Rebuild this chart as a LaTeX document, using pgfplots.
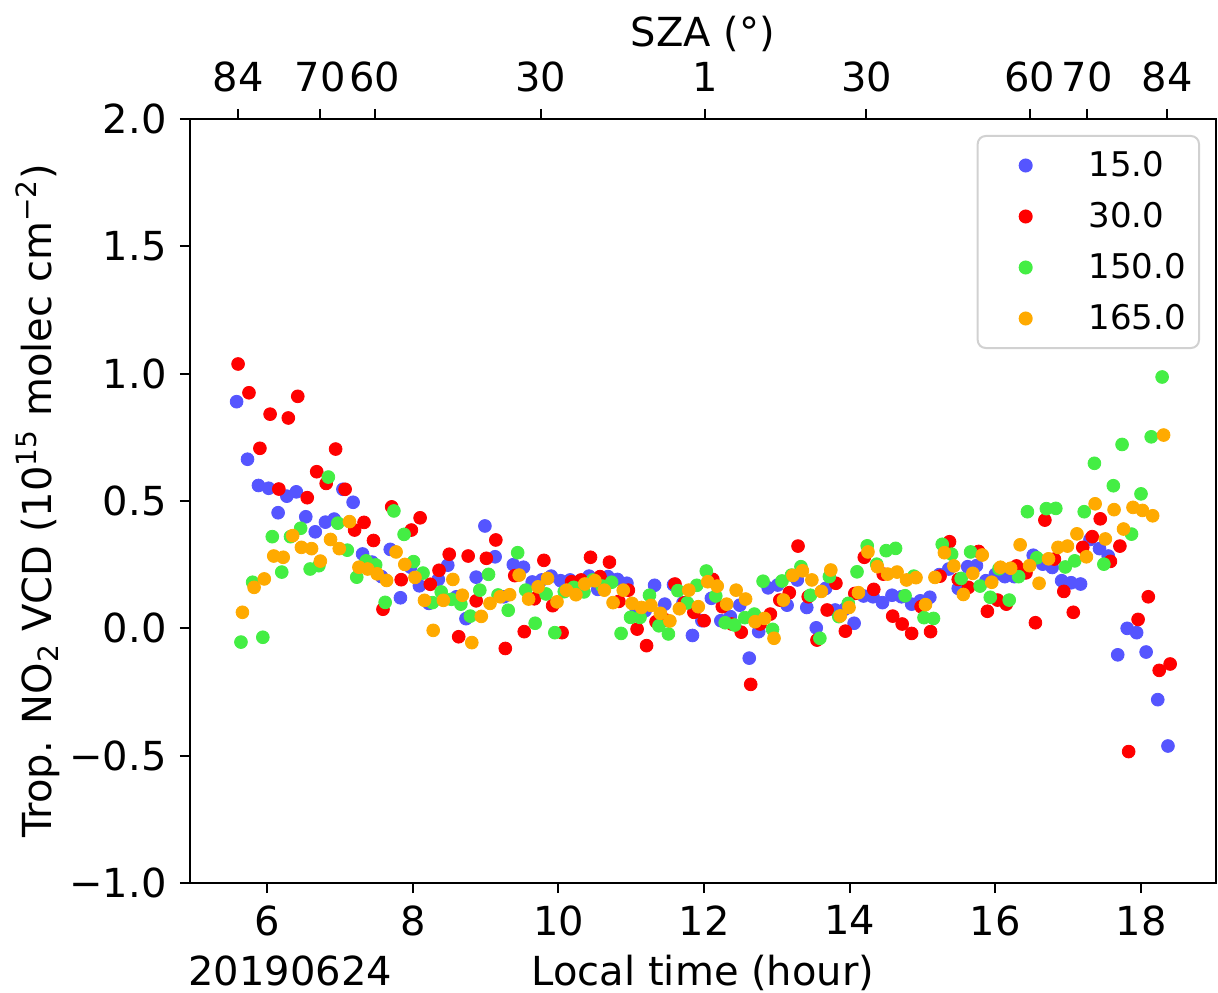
\documentclass[border=0pt]{standalone}
\usepackage{fontspec}
\setmainfont{DejaVu Sans}
\usepackage{pgfplots}
\pgfplotsset{compat=1.18}
\definecolor{cblue}{RGB}{85,85,255}
\definecolor{cred}{RGB}{255,0,0}
\definecolor{cgreen}{RGB}{68,238,68}
\definecolor{corange}{RGB}{255,170,0}
\newcommand{\bigf}{\fontsize{20}{24}\selectfont}
\newcommand{\legf}{\fontsize{17}{20}\selectfont}
\begin{document}
\begin{tikzpicture}
\useasboundingbox (-95pt,-54.5pt) rectangle (514pt,441.5pt);
\begin{axis}[
  name=main,
  at={(0,0)}, anchor=south west,
  scale only axis, width=513pt, height=382pt,
  xmin=4.94, xmax=19.03, ymin=-1, ymax=2,
  axis line style={line width=1pt},
  every tick/.style={line width=1pt, black},
  major tick length=5pt,
  tick align=outside,
  xtick={6,8,10,12,14,16,18},
  xticklabels={6,8,10,12,14,16,18},
  ytick={-1,-0.5,0,0.5,1,1.5,2},
  yticklabels={−1.0,−0.5,0.0,0.5,1.0,1.5,2.0},
  xtick pos=bottom, ytick pos=left,
  tick label style={font=\bigf},
  xticklabel style={anchor=north, inner sep=0pt},
  xticklabel shift=6pt,
  yticklabel style={anchor=east, inner sep=0pt},
  yticklabel shift=6.5pt,
  xlabel={Local time (hour)},
  xlabel style={font=\bigf, at={(axis description cs:0.5,0)}, anchor=base, yshift=-51pt, inner sep=0pt},
  ylabel={Trop. NO\textsubscript{2} VCD (10\textsuperscript{15} molec cm\textsuperscript{−2})},
  ylabel style={font=\bigf, at={([xshift=-76pt]axis description cs:0,0.5)}, anchor=center, inner sep=0pt},
  legend style={at={([xshift=-8pt,yshift=-8pt]rel axis cs:1,1)}, anchor=north east,
    draw=black!18, line width=1pt, rounded corners=4pt, fill=white,
    font=\legf, inner xsep=6.5pt, inner ysep=2pt, column sep=14pt,
    nodes={inner sep=0pt}},
  legend cell align=left,
  legend image code/.code={\path[draw=none,fill=none] (0pt,-12.75pt) rectangle (35pt,12.75pt); \draw[#1, mark size=3pt] plot coordinates {(17.5pt,0pt)};},
]
\addplot[only marks, mark=*, mark size=3.2pt, color=cblue] coordinates {
(5.58,0.890) (5.73,0.664) (5.88,0.561) (6.02,0.550) (6.15,0.454) (6.27,0.519) (6.40,0.536) (6.53,0.438)
(6.66,0.379) (6.80,0.417) (6.92,0.429) (7.04,0.546) (7.18,0.495) (7.31,0.292) (7.44,0.26) (7.57,0.203)
(7.69,0.310) (7.83,0.120) (7.97,0.240) (8.09,0.167) (8.22,0.098) (8.35,0.192) (8.48,0.248) (8.60,0.124)
(8.73,0.038) (8.87,0.201) (8.99,0.402) (9.13,0.281) (9.25,0.124) (9.38,0.250) (9.52,0.240) (9.64,0.182)
(9.77,0.19) (9.90,0.205) (10.03,0.187) (10.16,0.190) (10.29,0.17) (10.42,0.205) (10.54,0.153) (10.68,0.203)
(10.81,0.192) (10.94,0.177) (11.07,0.072) (11.19,0.069) (11.32,0.169) (11.46,0.095) (11.58,0.171) (11.71,0.10)
(11.84,-0.028) (11.97,0.030) (12.10,0.118) (12.23,0.030) (12.36,0.046) (12.49,0.091) (12.62,-0.117) (12.75,-0.013)
(12.88,0.159) (13.01,0.170) (13.14,0.091) (13.28,0.190) (13.41,0.082) (13.54,0.002) (13.67,0.157) (13.80,0.072)
(13.93,0.075) (14.06,0.020) (14.19,0.127) (14.32,0.124) (14.45,0.101) (14.58,0.130) (14.71,0.124) (14.85,0.095)
(14.97,0.108) (15.10,0.122) (15.23,0.211) (15.36,0.233) (15.49,0.157) (15.62,0.242) (15.74,0.246) (15.87,0.187)
(16.00,0.212) (16.13,0.203) (16.26,0.203) (16.39,0.218) (16.52,0.287) (16.65,0.252) (16.78,0.239) (16.91,0.187)
(17.04,0.179) (17.17,0.174) (17.30,0.349) (17.43,0.313) (17.55,0.284) (17.68,-0.104) (17.81,0.000) (17.94,-0.017)
(18.07,-0.093) (18.23,-0.280) (18.37,-0.462)
};
\addlegendentry{15.0}
\addplot[only marks, mark=*, mark size=3.2pt, color=cred] coordinates {
(5.60,1.038) (5.75,0.925) (5.90,0.707) (6.04,0.841) (6.16,0.547) (6.29,0.826) (6.42,0.911) (6.55,0.513)
(6.68,0.615) (6.81,0.569) (6.94,0.704) (7.07,0.546) (7.20,0.386) (7.33,0.416) (7.46,0.345) (7.59,0.075)
(7.71,0.477) (7.84,0.191) (7.98,0.386) (8.10,0.434) (8.24,0.173) (8.36,0.228) (8.50,0.291) (8.63,-0.033)
(8.76,0.284) (8.87,0.108) (9.01,0.275) (9.14,0.347) (9.27,-0.079) (9.40,0.207) (9.53,-0.013) (9.67,0.116)
(9.80,0.267) (9.92,0.089) (10.05,-0.017) (10.18,0.183) (10.31,0.19) (10.44,0.279) (10.57,0.203) (10.70,0.260)
(10.83,0.106) (10.96,0.150) (11.08,-0.003) (11.21,-0.068) (11.34,0.026) (11.47,0.033) (11.60,0.174) (11.73,0.10)
(11.86,0.063) (12.00,0.030) (12.12,0.192) (12.25,0.085) (12.38,0.017) (12.51,-0.015) (12.64,-0.220) (12.77,0.017)
(12.91,0.056) (13.04,0.111) (13.17,0.140) (13.29,0.323) (13.43,0.124) (13.55,-0.046) (13.69,0.072) (13.81,0.177)
(13.94,-0.011) (14.07,0.137) (14.20,0.279) (14.33,0.153) (14.46,0.213) (14.59,0.048) (14.72,0.017) (14.85,-0.020)
(14.98,0.085) (15.11,-0.013) (15.24,0.205) (15.37,0.340) (15.49,0.192) (15.63,0.161) (15.77,0.302) (15.89,0.067)
(16.03,0.111) (16.15,0.095) (16.29,0.245) (16.42,0.218) (16.55,0.022) (16.68,0.425) (16.81,0.272) (16.94,0.145)
(17.07,0.063) (17.20,0.318) (17.33,0.360) (17.44,0.430) (17.58,0.263) (17.71,0.323) (17.83,-0.484) (17.96,0.035)
(18.10,0.124) (18.25,-0.165) (18.40,-0.140)
};
\addlegendentry{30.0}
\addplot[only marks, mark=*, mark size=3.2pt, color=cgreen] coordinates {
(5.64,-0.054) (5.80,0.181) (5.94,-0.035) (6.07,0.360) (6.20,0.221) (6.32,0.360) (6.46,0.393) (6.59,0.233)
(6.71,0.246) (6.84,0.594) (6.97,0.413) (7.10,0.307) (7.23,0.201) (7.36,0.265) (7.49,0.249) (7.62,0.102)
(7.74,0.461) (7.88,0.369) (8.01,0.262) (8.14,0.217) (8.27,0.101) (8.39,0.143) (8.53,0.114) (8.66,0.095)
(8.79,0.048) (8.92,0.150) (9.04,0.212) (9.17,0.131) (9.31,0.071) (9.44,0.297) (9.55,0.150) (9.68,0.020)
(9.83,0.135) (9.95,-0.017) (10.08,0.144) (10.21,0.161) (10.35,0.143) (10.47,0.190) (10.60,0.166) (10.73,0.181)
(10.86,-0.020) (10.99,0.043) (11.12,0.043) (11.25,0.130) (11.38,0.010) (11.51,-0.022) (11.64,0.148) (11.77,0.10)
(11.90,0.169) (12.03,0.225) (12.16,0.127) (12.29,0.022) (12.42,0.013) (12.56,0.042) (12.69,0.056) (12.81,0.185)
(12.94,-0.004) (13.07,0.186) (13.20,0.209) (13.33,0.242) (13.46,0.130) (13.59,-0.039) (13.72,0.203) (13.85,0.046)
(13.98,0.098) (14.10,0.222) (14.24,0.324) (14.37,0.252) (14.50,0.305) (14.63,0.314) (14.76,0.128) (14.88,0.205)
(15.02,0.042) (15.15,0.039) (15.27,0.330) (15.40,0.291) (15.53,0.196) (15.66,0.300) (15.79,0.166) (15.93,0.122)
(16.05,0.234) (16.19,0.111) (16.32,0.203) (16.44,0.458) (16.57,0.277) (16.70,0.470) (16.83,0.471) (16.96,0.241)
(17.09,0.265) (17.22,0.458) (17.36,0.648) (17.49,0.252) (17.62,0.560) (17.74,0.722) (17.87,0.370) (18.00,0.528)
(18.14,0.752) (18.29,0.987)
};
\addlegendentry{150.0}
\addplot[only marks, mark=*, mark size=3.2pt, color=corange] coordinates {
(5.66,0.063) (5.82,0.161) (5.96,0.194) (6.09,0.284) (6.22,0.279) (6.35,0.364) (6.47,0.318) (6.61,0.313)
(6.73,0.264) (6.87,0.349) (6.99,0.313) (7.13,0.419) (7.26,0.240) (7.38,0.233) (7.51,0.214) (7.64,0.188)
(7.77,0.300) (7.89,0.251) (8.03,0.200) (8.16,0.110) (8.28,-0.008) (8.42,0.110) (8.55,0.192) (8.68,0.130)
(8.81,-0.056) (8.94,0.047) (9.06,0.098) (9.20,0.124) (9.33,0.132) (9.46,0.209) (9.59,0.115) (9.72,0.163)
(9.85,0.196) (9.98,0.104) (10.11,0.150) (10.24,0.132) (10.36,0.174) (10.50,0.187) (10.63,0.150) (10.75,0.101)
(10.89,0.150) (11.01,0.098) (11.14,0.082) (11.27,0.090) (11.40,0.059) (11.53,0.029) (11.66,0.077) (11.79,0.15)
(11.92,0.085) (12.05,0.183) (12.18,0.166) (12.31,0.095) (12.44,0.150) (12.57,0.115) (12.70,0.026) (12.83,0.039)
(12.96,-0.039) (13.09,0.111) (13.22,0.208) (13.35,0.226) (13.48,0.190) (13.61,0.145) (13.74,0.229) (13.87,0.049)
(13.99,0.082) (14.12,0.140) (14.25,0.300) (14.38,0.242) (14.52,0.213) (14.65,0.221) (14.78,0.190) (14.91,0.199)
(15.04,0.093) (15.17,0.200) (15.30,0.297) (15.43,0.245) (15.56,0.133) (15.69,0.216) (15.82,0.288) (15.95,0.181)
(16.07,0.240) (16.21,0.236) (16.34,0.328) (16.47,0.246) (16.60,0.177) (16.73,0.273) (16.86,0.318) (16.99,0.323)
(17.12,0.371) (17.25,0.281) (17.37,0.489) (17.51,0.351) (17.63,0.466) (17.76,0.390) (17.89,0.475) (18.02,0.463)
(18.16,0.442) (18.31,0.759)
};
\addlegendentry{165.0}
\end{axis}
\node[font=\bigf, anchor=base west, inner sep=0pt] at ([xshift=-1pt,yshift=-51pt]main.south west) {20190624};
\begin{axis}[
  at={(0,0)}, anchor=south west,
  scale only axis, width=513pt, height=382pt,
  xmin=4.94, xmax=19.03, ymin=-1, ymax=2,
  axis x line*=top, axis y line=none,
  axis line style={line width=1pt},
  every tick/.style={line width=1pt, black},
  major tick length=5pt,
  tick align=outside,
  xtick={5.60,6.73,7.48,9.76,12.01,14.23,16.47,17.26,18.36},
  xticklabels={84,70,60,30,1,30,60,70,84},
  tick label style={font=\bigf},
  xticklabel style={anchor=south, inner sep=0pt},
  xticklabel shift=8.5pt,
  xlabel={SZA (°)},
  xlabel style={font=\bigf, at={(axis description cs:0.5,1)}, anchor=base, yshift=36pt, inner sep=0pt},
]
\addplot[draw=none] coordinates {(10,0)};
\end{axis}
\end{tikzpicture}
\end{document}
